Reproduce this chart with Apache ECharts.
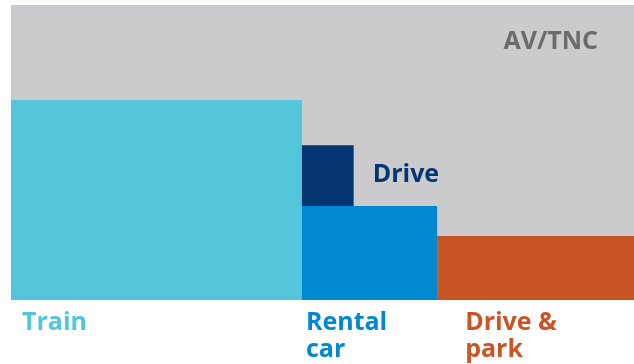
<!DOCTYPE html>
<html>
<head>
<meta charset="utf-8">
<script src="https://cdn.jsdelivr.net/npm/echarts@6/dist/echarts.min.js"></script>
<style>
  html, body { margin: 0; padding: 0; background: #ffffff; }
  #chart { width: 634px; height: 364px; }
</style>
</head>
<body>
<div id="chart"></div>
<script>
// Mode shares: column widths along x, block heights along y (both in %)
const modes = ['Train', 'Rental car', 'Drive & park'];
const modeWidths = [46.7, 21.7, 31.6];
const modeHeights = [67.8, 31.9, 21.7];
// "Drive" block sits on top of the rental car block
const driveLabel = 'Drive';
const driveWidth = 8.3;
const driveHeight = 20.6;
// Everything else up to the full height is AV/TNC
const avLabel = 'AV/TNC';
const avTotal = 100;

const colors = {
  av: '#cbcbcd',
  avText: '#6a6b6e',
  drive: '#033572',
  modes: ['#53c6db', '#0088d0', '#c95527']
};
const FONT = '"Open Sans", "Liberation Sans", sans-serif';

// Build rectangles [x0, x1, y0, y1, kind, index]
const rows = [];
rows.push([0, 100, 0, avTotal, 'av', 0]);
let x = 0;
const starts = [];
modeWidths.forEach((w, i) => {
  starts.push(x);
  rows.push([x, x + w, 0, modeHeights[i], 'mode', i]);
  x += w;
});
rows.push([starts[1], starts[1] + driveWidth, modeHeights[1], modeHeights[1] + driveHeight, 'drive', 0]);

// Label placement (pixel offsets from the block's corner)
const modeLabelOffset = [11, 4, 28];

function renderItem(params, api) {
  const x0 = api.value(0), x1 = api.value(1), y0 = api.value(2), y1 = api.value(3);
  const kind = rows[params.dataIndex][4];
  const idx = rows[params.dataIndex][5];
  const p0 = api.coord([x0, y1]);
  const p1 = api.coord([x1, y0]);
  const children = [];
  let fill;
  if (kind === 'av') fill = colors.av;
  else if (kind === 'drive') fill = colors.drive;
  else fill = colors.modes[idx];
  children.push({
    type: 'rect',
    shape: { x: p0[0], y: p0[1], width: p1[0] - p0[0], height: p1[1] - p0[1] },
    style: { fill: fill }
  });
  if (kind === 'av') {
    children.push({
      type: 'text',
      style: {
        text: avLabel, x: p1[0] - 36, y: p0[1] + 37,
        fill: colors.avText, font: 'bold 25px ' + FONT,
        align: 'right', verticalAlign: 'middle'
      }
    });
  } else if (kind === 'drive') {
    children.push({
      type: 'text',
      style: {
        text: driveLabel, x: p1[0] + 19, y: p0[1] + 30,
        fill: colors.drive, font: 'bold 25px ' + FONT,
        align: 'left', verticalAlign: 'middle'
      }
    });
  } else {
    const words = modes[idx].split(' ');
    const text = words.length > 1 ? words.slice(0, -1).join(' ') + '\n' + words[words.length - 1] : modes[idx];
    children.push({
      type: 'text',
      style: {
        text: modes[idx] === 'Train' ? 'Train' : text,
        x: p0[0] + modeLabelOffset[idx], y: p1[1] + 9,
        fill: fill, font: 'bold 25px ' + FONT,
        lineHeight: 27,
        align: 'left', verticalAlign: 'top'
      }
    });
  }
  return { type: 'group', children: children };
}

const chart = echarts.init(document.getElementById('chart'), null, { renderer: 'canvas' });
chart.setOption({
  animation: false,
  grid: { left: 11, right: 0, top: 5, bottom: 64 },
  xAxis: { type: 'value', min: 0, max: 100, show: false },
  yAxis: { type: 'value', min: 0, max: 100, show: false },
  series: [{
    type: 'custom',
    renderItem: renderItem,
    data: rows.map(r => [r[0], r[1], r[2], r[3]]),
    clip: false
  }]
});
</script>
</body>
</html>
